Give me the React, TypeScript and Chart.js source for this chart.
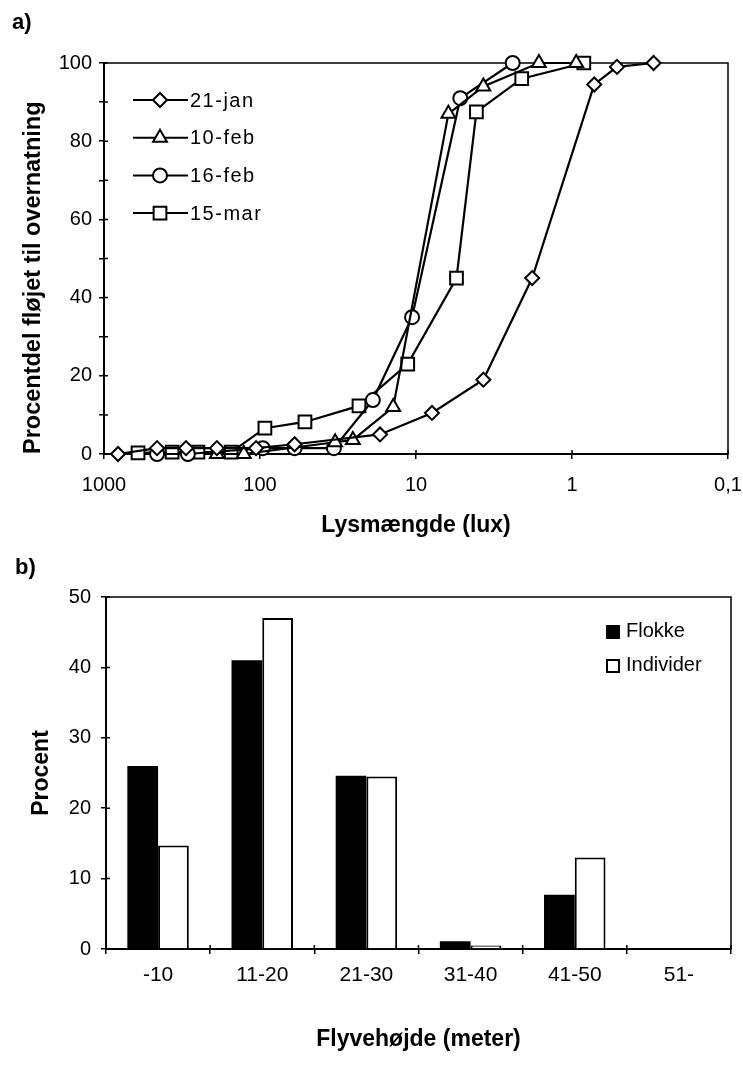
import React, { useEffect, useRef } from 'react';
import { Chart, registerables } from 'chart.js';
import { drawPoint } from 'chart.js/helpers';

Chart.register(...registerables);

const FONT = "'Liberation Sans', Arial, Helvetica, sans-serif";

// ---------- Chart a) data ----------
const luxTicks = [1000, 100, 10, 1, 0.1];
const luxTickLabels = ['1000', '100', '10', '1', '0,1'];
const seriesNames = ['21-jan', '10-feb', '16-feb', '15-mar'];
const seriesMarkers = ['rectRot', 'triangle', 'circle', 'rect'];
const seriesMarkerSizes = [7, 8, 7, 9];

const jan21Lux = [813, 457, 298, 189, 106, 60, 17, 7.9, 3.7, 1.8, 0.72, 0.515, 0.3];
const jan21Pct = [0, 1.5, 1.5, 1.5, 1.5, 2.5, 5, 10.5, 19, 45, 94.5, 99, 100];

const feb10Lux = [189, 127, 33, 25.4, 14, 6.2, 3.7, 1.63, 0.94];
const feb10Pct = [0, 0, 3, 3.6, 12, 87, 94, 100, 100];

const feb16Lux = [457, 290, 96, 60, 33.6, 18.9, 10.6, 5.2, 2.4];
const feb16Pct = [0, 0, 1.5, 1.5, 1.5, 13.8, 35, 91, 100];

const mar15Lux = [605, 366, 250, 153, 93, 51.5, 23.2, 11.3, 5.5, 4.1, 2.1, 0.84];
const mar15Pct = [0.3, 0.5, 0.5, 0.5, 6.6, 8.2, 12.3, 23, 45, 87.5, 96, 100];

const seriesLux = [jan21Lux, feb10Lux, feb16Lux, mar15Lux];
const seriesPct = [jan21Pct, feb10Pct, feb16Pct, mar15Pct];

// ---------- Chart b) data ----------
const heightCats = ['-10', '11-20', '21-30', '31-40', '41-50', '51-'];
const flokke = [26, 41, 24.6, 1.1, 7.7, 0];
const individer = [14.7, 47, 24.5, 0.5, 13, 0];
const barSeriesNames = ['Flokke', 'Individer'];

// ---------- plugins ----------
const framePlugin = {
  id: 'frameTicks',
  beforeDatasetsDraw(chart: any) {
    const { ctx, chartArea: a } = chart;
    ctx.save();
    ctx.strokeStyle = '#000';
    ctx.lineWidth = 1.5;
    ctx.strokeRect(a.left, a.top, a.right - a.left, a.bottom - a.top);
    const xs = chart.scales.x;
    const ys = chart.scales.y;
    ctx.beginPath();
    if (xs.type === 'category') {
      const n = xs.ticks.length;
      const w = (a.right - a.left) / n;
      for (let i = 0; i <= n; i++) {
        const px = a.left + i * w;
        ctx.moveTo(px, a.bottom);
        ctx.lineTo(px, a.bottom - 4);
      }
    } else {
      xs.ticks.forEach((t: any) => {
        const px = xs.getPixelForValue(t.value);
        ctx.moveTo(px, a.bottom);
        ctx.lineTo(px, a.bottom - 4);
      });
    }
    ys.ticks.forEach((t: any) => {
      const py = ys.getPixelForValue(t.value);
      ctx.moveTo(a.left, py);
      ctx.lineTo(a.left + 4, py);
    });
    ctx.stroke();
    ctx.restore();
  },
};

const lineLegendPlugin = {
  id: 'lineLegend',
  afterDraw(chart: any) {
    const ctx = chart.ctx;
    ctx.save();
    chart.data.datasets.forEach((ds: any, i: number) => {
      const y = 100 + i * 37.7;
      ctx.strokeStyle = '#000';
      ctx.lineWidth = 2;
      ctx.beginPath();
      ctx.moveTo(133, y);
      ctx.lineTo(188, y);
      ctx.stroke();
      ctx.fillStyle = '#fff';
      ctx.strokeStyle = '#000';
      ctx.lineWidth = 2;
      drawPoint(ctx, { pointStyle: ds.pointStyle, radius: ds.pointRadius, borderWidth: 2, rotation: 0 }, 160, y);
      ctx.fillStyle = '#000';
      ctx.font = `20px ${FONT}`;
      (ctx as any).letterSpacing = '1.5px';
      ctx.textBaseline = 'middle';
      ctx.textAlign = 'left';
      ctx.fillText(ds.label, 190, y + 1);
      (ctx as any).letterSpacing = '0px';
    });
    ctx.restore();
  },
};

const barLegendPlugin = {
  id: 'barLegend',
  afterDraw(chart: any) {
    const ctx = chart.ctx;
    ctx.save();
    chart.data.datasets.forEach((ds: any, i: number) => {
      const y = 87 + i * 34;
      ctx.fillStyle = ds.backgroundColor;
      ctx.fillRect(606, y - 7, 14, 14);
      ctx.strokeStyle = '#000';
      ctx.lineWidth = 2;
      ctx.strokeRect(607, y - 6, 12, 12);
      ctx.fillStyle = '#000';
      ctx.font = `20px ${FONT}`;
      ctx.textBaseline = 'middle';
      ctx.textAlign = 'left';
      ctx.fillText(ds.label, 626, y - 1);
    });
    ctx.restore();
  },
};

const tickFont = { family: FONT, size: 20 };
const catFont = { family: FONT, size: 21 };
const titleFont = { family: FONT, size: 23, weight: 'bold' as const };
const yTitleFontA = { family: FONT, size: 23.5, weight: 'bold' as const };

function LineChartA() {
  const ref = useRef<HTMLCanvasElement>(null);
  useEffect(() => {
    const datasets = seriesNames.map((name, i) => ({
      label: name,
      data: seriesLux[i].map((x, j) => ({ x, y: seriesPct[i][j] })),
      borderColor: '#000',
      borderWidth: 2.2,
      pointStyle: seriesMarkers[i],
      pointRadius: seriesMarkerSizes[i],
      pointBackgroundColor: '#fff',
      pointBorderColor: '#000',
      pointBorderWidth: 2,
      fill: false,
      tension: 0,
      clip: false as any,
    }));
    const chart = new Chart(ref.current!, {
      type: 'line',
      data: { datasets },
      plugins: [framePlugin, lineLegendPlugin],
      options: {
        animation: false,
        responsive: false,
        layout: { padding: { top: 63, right: 15, bottom: 0, left: 0 } },
        plugins: { legend: { display: false }, tooltip: { enabled: false } },
        scales: {
          x: {
            type: 'logarithmic',
            reverse: true,
            min: 0.1,
            max: 1000,
            afterBuildTicks: (scale: any) => {
              scale.ticks = luxTicks.map((v) => ({ value: v }));
            },
            afterFit: (scale: any) => {
              scale.height = 91;
              scale.paddingLeft = 0;
              scale.paddingRight = 0;
            },
            ticks: {
              font: tickFont,
              color: '#000',
              padding: 14,
              maxRotation: 0,
              autoSkip: false,
              callback: (v: any) => luxTickLabels[luxTicks.indexOf(Number(v))] ?? '',
            },
            grid: { drawOnChartArea: false, drawTicks: true, tickLength: 5, color: '#000', lineWidth: 1.5 },
            border: { display: true, color: '#000', width: 2 },
            title: {
              display: true,
              text: 'Lysmængde (lux)',
              font: titleFont,
              color: '#000',
              padding: { top: 0, bottom: 6 },
            },
          },
          y: {
            min: 0,
            max: 100,
            afterFit: (scale: any) => {
              scale.width = 104;
            },
            ticks: {
              stepSize: 10,
              font: tickFont,
              color: '#000',
              padding: 7,
              callback: (v: any) => (Number(v) % 20 === 0 ? String(v) : ''),
            },
            grid: { drawOnChartArea: false, drawTicks: true, tickLength: 5, color: '#000', lineWidth: 1.5 },
            border: { display: true, color: '#000', width: 2 },
            title: {
              display: true,
              text: 'Procentdel fløjet til overnatning',
              align: 'start',
              font: yTitleFontA,
              color: '#000',
              padding: { top: 19, bottom: 0 },
            },
          },
        },
      },
    });
    return () => chart.destroy();
  }, []);
  return <canvas ref={ref} width={743} height={545} style={{ position: 'absolute', left: 0, top: 0 }} />;
}

function BarChartB() {
  const ref = useRef<HTMLCanvasElement>(null);
  useEffect(() => {
    const chart = new Chart(ref.current!, {
      type: 'bar',
      data: {
        labels: heightCats,
        datasets: [
          {
            label: barSeriesNames[0],
            data: flokke,
            backgroundColor: '#000',
            borderColor: '#000',
            borderWidth: 0,
            categoryPercentage: 0.59,
            barPercentage: 1,
          },
          {
            label: barSeriesNames[1],
            data: individer,
            backgroundColor: '#fff',
            borderColor: '#000',
            borderWidth: 2,
            categoryPercentage: 0.59,
            barPercentage: 1,
          },
        ],
      },
      plugins: [framePlugin, barLegendPlugin],
      options: {
        animation: false,
        responsive: false,
        layout: { padding: { top: 52, right: 12, bottom: 0, left: 0 } },
        plugins: { legend: { display: false }, tooltip: { enabled: false } },
        scales: {
          x: {
            afterFit: (scale: any) => {
              scale.height = 133;
            },
            ticks: { font: catFont, color: '#000', padding: 9, maxRotation: 0, autoSkip: false },
            grid: { drawOnChartArea: false, drawTicks: true, tickLength: 5, color: '#000', lineWidth: 1.5 },
            border: { display: true, color: '#000', width: 2 },
            title: {
              display: true,
              text: 'Flyvehøjde (meter)',
              font: titleFont,
              color: '#000',
              padding: { top: 0, bottom: 29 },
            },
          },
          y: {
            min: 0,
            max: 50,
            afterFit: (scale: any) => {
              scale.width = 106;
            },
            ticks: { stepSize: 10, font: tickFont, color: '#000', padding: 10 },
            grid: { drawOnChartArea: false, drawTicks: true, tickLength: 5, color: '#000', lineWidth: 1.5 },
            border: { display: true, color: '#000', width: 2 },
            title: {
              display: true,
              text: 'Procent',
              font: titleFont,
              color: '#000',
              padding: { top: 28, bottom: 0 },
            },
          },
        },
      },
    });
    return () => chart.destroy();
  }, []);
  return <canvas ref={ref} width={743} height={537} style={{ position: 'absolute', left: 0, top: 545 }} />;
}

export default function App() {
  const labelStyle: React.CSSProperties = {
    position: 'absolute',
    fontFamily: FONT,
    fontWeight: 'bold',
    fontSize: 22,
    lineHeight: '26px',
    color: '#000',
  };
  return (
    <div style={{ position: 'absolute', left: 0, top: 0, width: 743, height: 1082, background: '#fff', overflow: 'hidden' }}>
      <LineChartA />
      <BarChartB />
      <div style={{ ...labelStyle, left: 12, top: 9 }}>a)</div>
      <div style={{ ...labelStyle, left: 15, top: 554 }}>b)</div>
    </div>
  );
}
